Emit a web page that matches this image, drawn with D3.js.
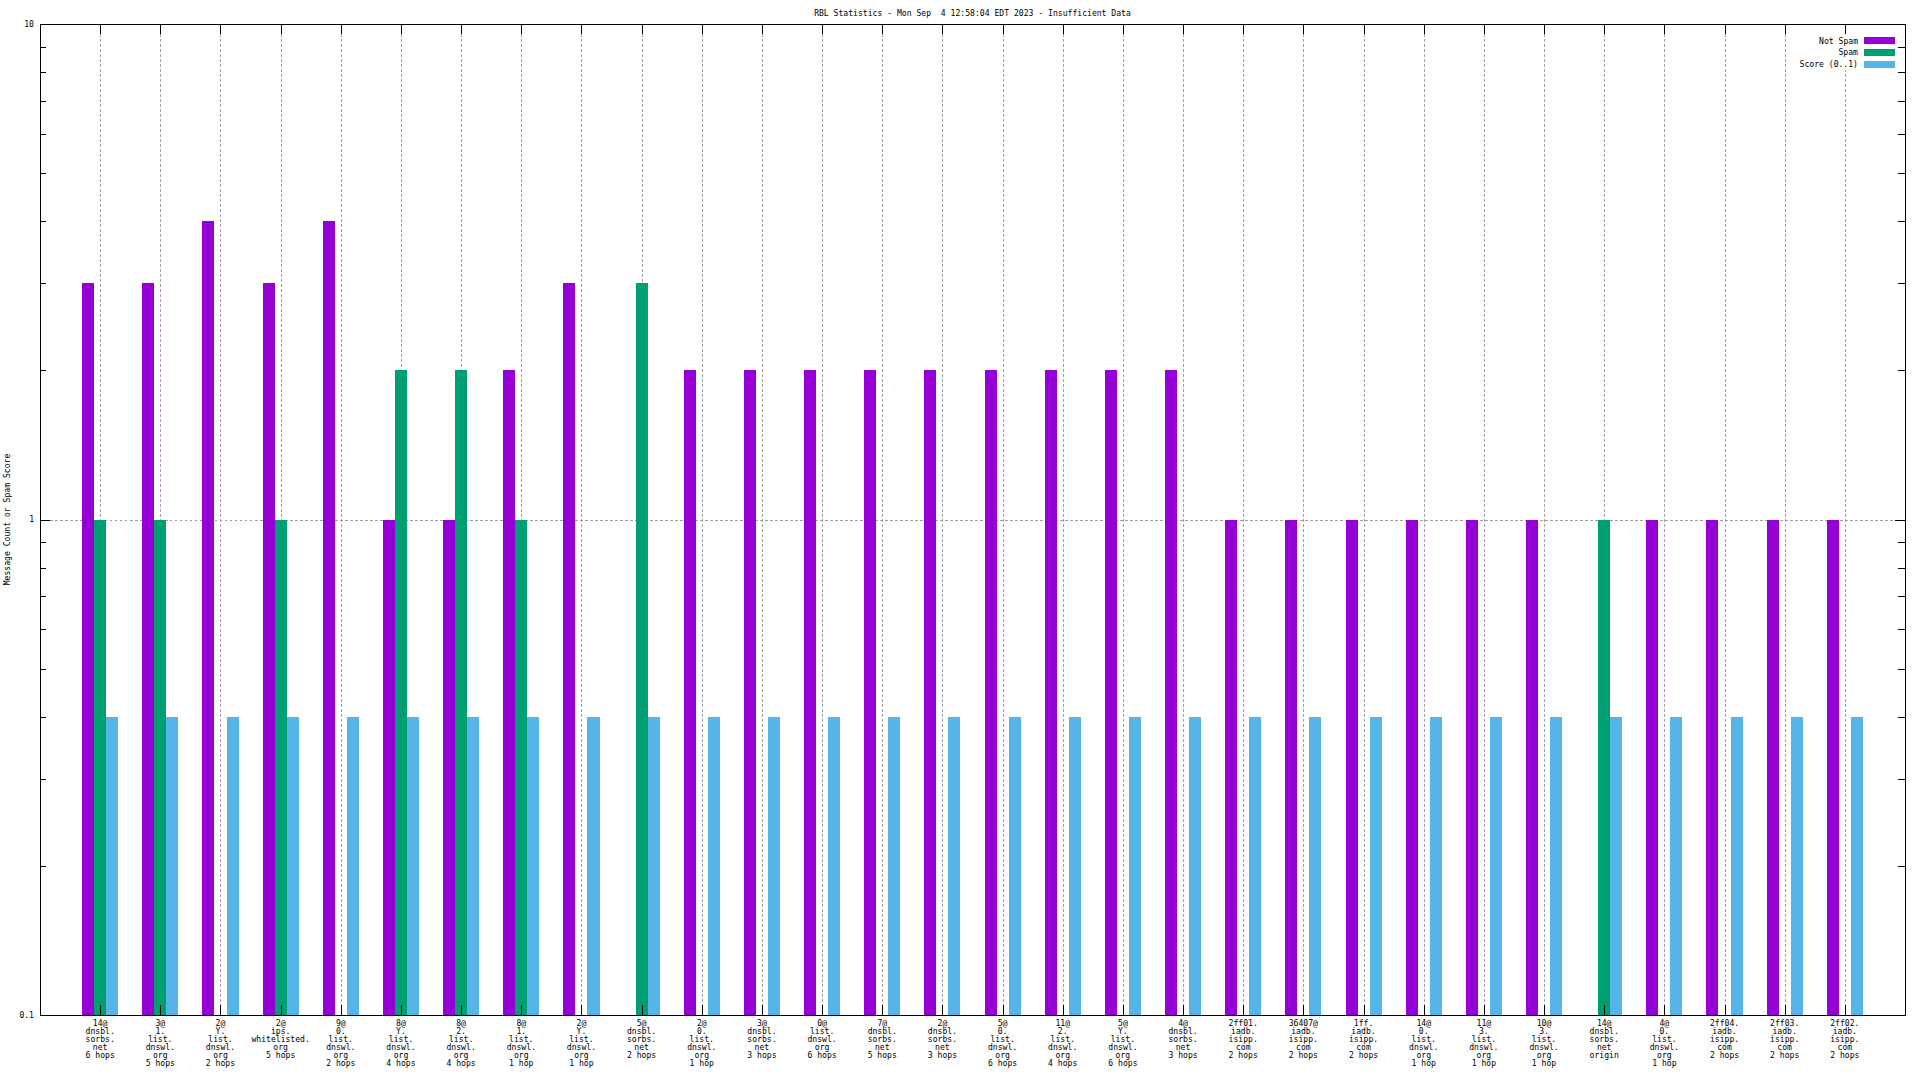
<!DOCTYPE html>
<html>
<head>
<meta charset="utf-8">
<script src="https://cdn.jsdelivr.net/npm/d3@7"></script>
<style>
  html, body { margin: 0; padding: 0; background: #fff; }
  svg { display: block; }
  text { font-family: "DejaVu Sans Mono", monospace; font-size: 8.1px; fill: #000; }
</style>
</head>
<body>
<script>
const title = "RBL Statistics - Mon Sep  4 12:58:04 EDT 2023 - Insufficient Data";
const yLabel = "Message Count or Spam Score";

const categories = [
  "14@\ndnsbl.\nsorbs.\nnet\n6 hops",
  "3@\n1.\nlist.\ndnswl.\norg\n5 hops",
  "2@\nY.\nlist.\ndnswl.\norg\n2 hops",
  "2@\nips.\nwhitelisted.\norg\n5 hops",
  "9@\n0.\nlist.\ndnswl.\norg\n2 hops",
  "8@\nY.\nlist.\ndnswl.\norg\n4 hops",
  "8@\n2.\nlist.\ndnswl.\norg\n4 hops",
  "8@\n1.\nlist.\ndnswl.\norg\n1 hop",
  "2@\nY.\nlist.\ndnswl.\norg\n1 hop",
  "5@\ndnsbl.\nsorbs.\nnet\n2 hops",
  "2@\n0.\nlist.\ndnswl.\norg\n1 hop",
  "3@\ndnsbl.\nsorbs.\nnet\n3 hops",
  "0@\nlist.\ndnswl.\norg\n6 hops",
  "7@\ndnsbl.\nsorbs.\nnet\n5 hops",
  "2@\ndnsbl.\nsorbs.\nnet\n3 hops",
  "5@\n0.\nlist.\ndnswl.\norg\n6 hops",
  "11@\n2.\nlist.\ndnswl.\norg\n4 hops",
  "5@\nY.\nlist.\ndnswl.\norg\n6 hops",
  "4@\ndnsbl.\nsorbs.\nnet\n3 hops",
  "2ff01.\niadb.\nisipp.\ncom\n2 hops",
  "36407@\niadb.\nisipp.\ncom\n2 hops",
  "1ff.\niadb.\nisipp.\ncom\n2 hops",
  "14@\n0.\nlist.\ndnswl.\norg\n1 hop",
  "11@\n3.\nlist.\ndnswl.\norg\n1 hop",
  "10@\n3.\nlist.\ndnswl.\norg\n1 hop",
  "14@\ndnsbl.\nsorbs.\nnet\norigin",
  "4@\n0.\nlist.\ndnswl.\norg\n1 hop",
  "2ff04.\niadb.\nisipp.\ncom\n2 hops",
  "2ff03.\niadb.\nisipp.\ncom\n2 hops",
  "2ff02.\niadb.\nisipp.\ncom\n2 hops"
];

const notSpam = [3,3,4,3,4,1,1,2,3,0,2,2,2,2,2,2,2,2,2,1,1,1,1,1,1,0,1,1,1,1];
const spam    = [1,1,0,1,0,2,2,1,0,3,0,0,0,0,0,0,0,0,0,0,0,0,0,0,0,1,0,0,0,0];
const score   = [0.4,0.4,0.4,0.4,0.4,0.4,0.4,0.4,0.4,0.4,0.4,0.4,0.4,0.4,0.4,0.4,0.4,0.4,0.4,0.4,0.4,0.4,0.4,0.4,0.4,0.4,0.4,0.4,0.4,0.4];

const seriesNames = ["Not Spam", "Spam", "Score (0..1)"];
const seriesColors = ["#9400d3", "#009e73", "#56b4e9"];
const yTickLabels = ["0.1", "1", "10"];

const W = 1920, H = 1080;
const L = 40, R = 1905, T = 24, B = 1015;

const svg = d3.select("body").append("svg")
  .attr("width", W).attr("height", H)
  .style("background", "#fff");

const x = d3.scaleLinear().domain([0, categories.length + 1]).range([L, R]);
const y = d3.scaleLog().domain([0.1, 10]).range([B, T]);

const gridColor = "#a0a0a0";
const dash = "2.5,2.5";

// grid
const grid = svg.append("g").attr("shape-rendering", "crispEdges");
categories.forEach((c, i) => {
  const xx = Math.round(x(i + 1)) + 0.5;
  grid.append("line").attr("x1", xx).attr("x2", xx).attr("y1", T).attr("y2", B)
    .attr("stroke", gridColor).attr("stroke-dasharray", dash).attr("stroke-width", 1);
});
[1].forEach(v => {
  const yy = Math.round(y(v)) + 0.5;
  grid.append("line").attr("x1", L).attr("x2", R).attr("y1", yy).attr("y2", yy)
    .attr("stroke", gridColor).attr("stroke-dasharray", dash).attr("stroke-width", 1);
});

// bars
const series = [notSpam, spam, score];
const offsets = [-0.3, -0.1, 0.1];
const barW = 0.2;
const bars = svg.append("g").attr("shape-rendering", "crispEdges");
series.forEach((vals, s) => {
  bars.selectAll(null)
    .data(vals.map((v, i) => ({ v, i })).filter(d => d.v > 0))
    .enter().append("rect")
    .attr("x", d => Math.round(x(d.i + 1 + offsets[s])))
    .attr("width", d => Math.round(x(d.i + 1 + offsets[s] + barW)) - Math.round(x(d.i + 1 + offsets[s])))
    .attr("y", d => Math.round(y(d.v)))
    .attr("height", d => B - Math.round(y(d.v)))
    .attr("fill", seriesColors[s]);
});

// legend
const lg = svg.append("g");
lg.append("rect").attr("x", 1790).attr("y", 34).attr("width", 107).attr("height", 36).attr("fill", "#fff");
seriesNames.forEach((n, k) => {
  const cy = 40.7 + k * 11.8;
  lg.append("text").attr("x", 1858).attr("y", cy).attr("dy", "0.35em")
    .attr("text-anchor", "end").text(n);
  lg.append("rect").attr("x", 1864).attr("y", Math.round(cy - 3.5)).attr("width", 31).attr("height", 7)
    .attr("fill", seriesColors[k]);
});

// border and ticks
const ax = svg.append("g").attr("shape-rendering", "crispEdges");
ax.append("rect").attr("x", L + 0.5).attr("y", T + 0.5).attr("width", R - L).attr("height", B - T)
  .attr("fill", "none").attr("stroke", "#000").attr("stroke-width", 1);

categories.forEach((c, i) => {
  const xx = Math.round(x(i + 1)) + 0.5;
  ax.append("line").attr("x1", xx).attr("x2", xx).attr("y1", T).attr("y2", T + 10).attr("stroke", "#000");
  ax.append("line").attr("x1", xx).attr("x2", xx).attr("y1", B).attr("y2", B - 10).attr("stroke", "#000");
});

const majors = [0.1, 1, 10];
const minors = [];
[0.1, 1].forEach(d => { for (let k = 2; k <= 9; k++) minors.push(d * k); });
majors.forEach(v => {
  const yy = Math.round(y(v)) + 0.5;
  ax.append("line").attr("x1", L).attr("x2", L + 10).attr("y1", yy).attr("y2", yy).attr("stroke", "#000");
  ax.append("line").attr("x1", R).attr("x2", R - 10).attr("y1", yy).attr("y2", yy).attr("stroke", "#000");
});
minors.forEach(v => {
  const yy = Math.round(y(v)) + 0.5;
  ax.append("line").attr("x1", L).attr("x2", L + 6).attr("y1", yy).attr("y2", yy).attr("stroke", "#000");
  ax.append("line").attr("x1", R).attr("x2", R - 7).attr("y1", yy).attr("y2", yy).attr("stroke", "#000");
});

// y tick labels
majors.forEach((v, k) => {
  svg.append("text").attr("x", 34).attr("y", y(v)).attr("dy", "0.35em")
    .attr("text-anchor", "end").text(yTickLabels[k]);
});

// x labels
categories.forEach((c, i) => {
  const t = svg.append("text").attr("text-anchor", "middle");
  c.split("\n").forEach((line, j) => {
    t.append("tspan").attr("x", x(i + 1)).attr("y", 1025.5 + j * 8).text(line);
  });
});

// title
svg.append("text").attr("x", (L + R) / 2).attr("y", 15.5).attr("text-anchor", "middle")
  .style("white-space", "pre").attr("xml:space", "preserve").text(title);

// y label
svg.append("text").attr("transform", `translate(10,${(T + B) / 2}) rotate(-90)`)
  .attr("text-anchor", "middle").text(yLabel);
</script>
</body>
</html>
